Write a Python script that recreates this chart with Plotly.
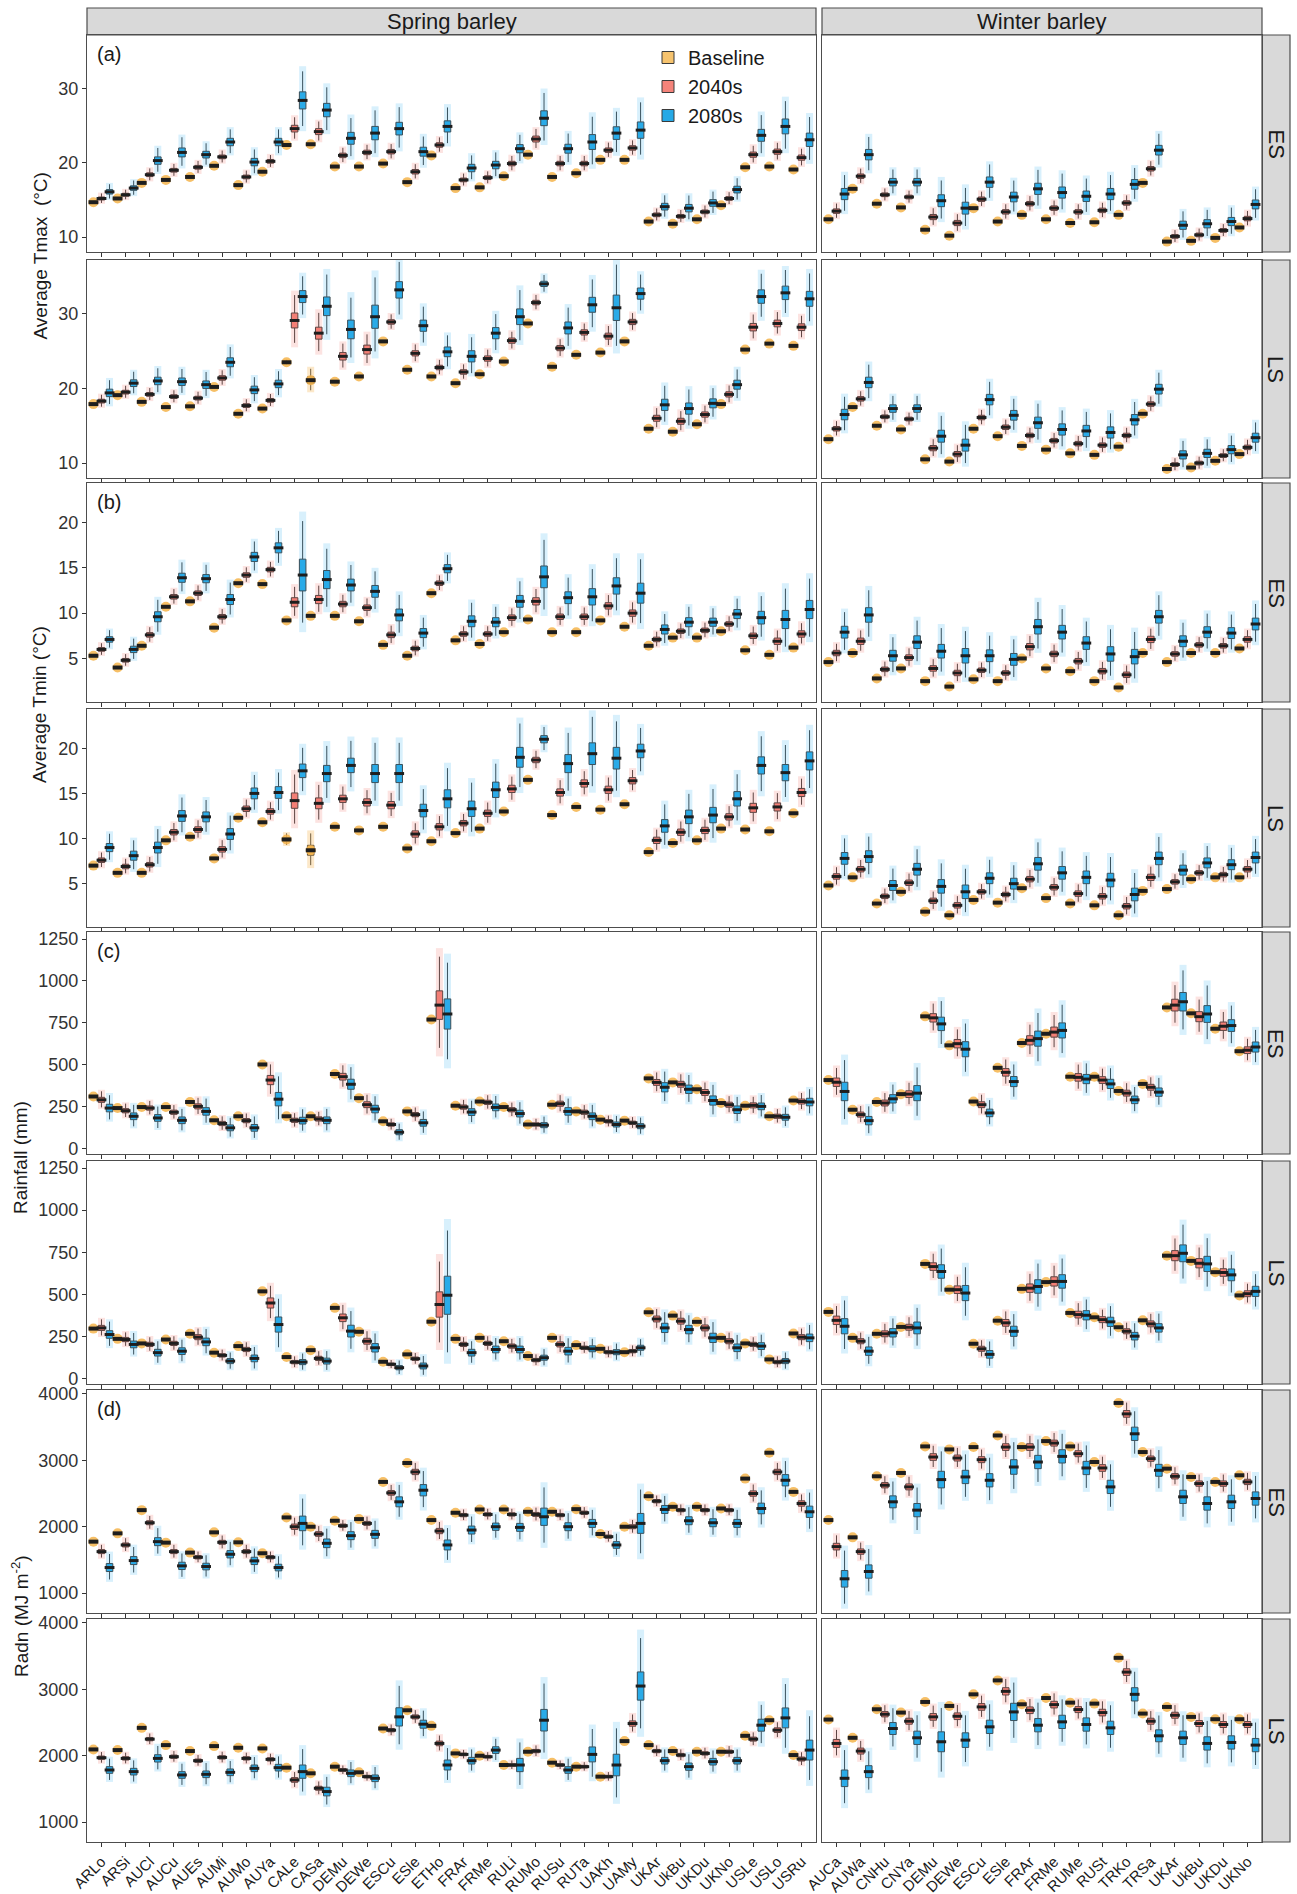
import plotly.graph_objects as go

W, H = 1297, 1894

SPRING_SITES = ["ARLo", "ARSi", "AUCl", "AUCu", "AUEs", "AUMi", "AUMo", "AUYa", "CALe", "CASa",
                "DEMu", "DEWe", "ESCu", "ESle", "ETHo", "FRAr", "FRMe", "RULi", "RUMo", "RUSu",
                "RUTa", "UAKh", "UAMy", "UKAr", "UkBu", "UKDu", "UKNo", "USLe", "USLo", "USRu"]
WINTER_SITES = ["AUCa", "AUWa", "CNHu", "CNYa", "DEMu", "DEWe", "ESCu", "ESle", "FRAr", "FRMe",
                "RUMe", "RUSt", "TRKo", "TRSa", "UKAr", "UkBu", "UKDu", "UKNo"]

# ---------------- Average Tmax ----------------
TMAX_ES_SP_BASE = [14.7, 15.2, 17.3, 17.7, 18.1, 19.6, 17.0, 18.8, 22.4, 22.5, 19.5, 19.5, 19.9, 17.4, 21.0,
                   16.6, 16.7, 18.2, 21.1, 18.1, 18.6, 20.4, 20.4, 12.1, 11.8, 12.4, 14.3, 19.4, 19.5, 19.1]
TMAX_ES_SP_2040 = [15.2, 15.7, 18.4, 19.0, 19.4, 20.8, 18.1, 20.2, 24.6, 24.2, 21.0, 21.4, 21.5, 18.8, 22.4,
                   17.7, 18.0, 19.9, 23.2, 19.9, 19.9, 21.7, 22.0, 13.0, 12.8, 13.4, 15.2, 21.1, 21.5, 20.7]
TMAX_ES_SP_2080 = [16.1, 16.6, 20.3, 21.4, 21.1, 22.8, 20.1, 22.8, 28.4, 27.1, 23.3, 24.0, 24.6, 21.5, 24.9,
                   19.3, 19.7, 21.9, 26.0, 21.9, 22.8, 24.0, 24.4, 14.1, 13.9, 14.6, 16.4, 23.7, 24.9, 23.1]
TMAX_ES_SP_IQR40 = [0.4, 0.4, 0.5, 0.5, 0.5, 0.5, 0.5, 0.5, 0.9, 0.8, 0.6, 0.6, 0.6, 0.6, 0.6,
                    0.5, 0.5, 0.6, 0.8, 0.6, 0.6, 0.6, 0.6, 0.5, 0.5, 0.5, 0.5, 0.7, 0.7, 0.7]
TMAX_ES_SP_IQR80 = [0.6, 0.6, 1.0, 1.2, 0.9, 1.0, 1.0, 1.0, 2.3, 1.8, 1.6, 1.8, 1.7, 1.2, 1.5,
                    1.0, 1.0, 1.1, 2.0, 1.2, 2.0, 1.7, 2.2, 0.9, 1.0, 0.9, 0.9, 1.6, 2.0, 1.8]

TMAX_ES_WI_BASE = [12.4, 16.5, 14.5, 14.0, 11.0, 10.2, 13.9, 12.1, 13.0, 12.4, 11.9, 12.0, 13.0, 17.3, 9.4, 9.5, 9.9, 11.3]
TMAX_ES_WI_2040 = [13.5, 18.2, 15.7, 15.4, 12.7, 11.9, 15.1, 13.4, 14.5, 13.9, 13.4, 13.6, 14.6, 19.2, 10.1, 10.3, 10.9, 12.5]
TMAX_ES_WI_2080 = [15.8, 21.1, 17.4, 17.4, 14.9, 13.9, 17.4, 15.4, 16.5, 16.0, 15.5, 15.8, 17.1, 21.7, 11.6, 11.8, 12.1, 14.4]
TMAX_ES_WI_IQR40 = [0.6, 0.6, 0.5, 0.5, 0.7, 0.7, 0.6, 0.6, 0.6, 0.6, 0.6, 0.6, 0.6, 0.6, 0.5, 0.5, 0.5, 0.6]
TMAX_ES_WI_IQR80 = [1.5, 1.4, 1.0, 1.0, 1.6, 1.6, 1.4, 1.3, 1.5, 1.5, 1.4, 1.5, 1.3, 1.3, 1.1, 1.1, 1.1, 1.2]

TMAX_LS_SP_BASE = [17.9, 19.1, 18.2, 17.5, 17.6, 20.2, 16.6, 17.3, 23.5, 21.1, 20.9, 21.6, 26.3, 22.5, 21.6,
                   20.7, 21.9, 23.6, 28.7, 22.9, 24.5, 24.8, 26.3, 14.6, 14.2, 15.2, 17.9, 25.2, 26.0, 25.7]
TMAX_LS_SP_2040 = [18.3, 19.5, 19.2, 18.9, 18.7, 21.4, 17.7, 18.4, 29.1, 27.4, 24.3, 25.2, 28.9, 24.7, 22.8,
                   22.2, 24.0, 26.4, 31.5, 25.4, 27.5, 27.0, 28.9, 16.0, 15.6, 16.5, 19.2, 28.2, 28.7, 28.2]
TMAX_LS_SP_2080 = [19.4, 20.7, 21.0, 20.9, 20.5, 23.5, 19.8, 20.6, 32.3, 31.0, 27.9, 29.6, 33.2, 28.4, 24.9,
                   24.3, 27.4, 29.6, 34.0, 28.1, 31.2, 30.8, 32.7, 17.8, 17.3, 18.0, 20.5, 32.3, 32.8, 32.0]
TMAX_LS_SP_IQR40 = [0.5, 0.5, 0.5, 0.5, 0.5, 0.6, 0.5, 0.5, 2.0, 1.6, 1.0, 1.2, 0.6, 0.7, 0.6,
                    0.6, 0.7, 0.7, 0.6, 0.7, 0.7, 0.8, 0.7, 0.8, 0.8, 0.7, 0.7, 1.0, 0.9, 0.9]
TMAX_LS_SP_IQR80 = [1.0, 0.9, 1.0, 1.0, 1.0, 1.2, 1.0, 1.0, 1.6, 2.5, 2.5, 3.1, 2.2, 1.5, 1.3,
                    1.5, 1.5, 2.1, 0.7, 1.6, 2.0, 3.4, 1.5, 1.5, 1.5, 1.2, 1.2, 1.8, 1.8, 2.0]
TMAX_LS_SP_IQRB = [0.0, 0.0, 0.0, 0.0, 0.0, 0.0, 0.0, 0.0, 0.2, 0.9, 0.0, 0.0, 0.0, 0.0, 0.0,
                   0.0, 0.0, 0.0, 0.0, 0.0, 0.0, 0.0, 0.0, 0.0, 0.0, 0.0, 0.0, 0.0, 0.0, 0.0]

TMAX_LS_WI_BASE = [13.2, 17.5, 15.0, 14.5, 10.5, 10.2, 14.6, 13.6, 12.3, 11.8, 11.3, 11.1, 12.2, 16.6, 9.2, 9.4, 10.3, 11.2]
TMAX_LS_WI_2040 = [14.6, 18.6, 16.2, 15.9, 12.0, 11.2, 16.1, 14.8, 13.7, 13.0, 12.6, 12.4, 13.7, 17.9, 9.8, 10.0, 11.0, 12.1]
TMAX_LS_WI_2080 = [16.5, 20.8, 17.3, 17.3, 13.6, 12.4, 18.5, 16.4, 15.4, 14.5, 14.3, 14.1, 15.8, 19.9, 11.1, 11.3, 11.8, 13.4]
TMAX_LS_WI_IQR40 = [0.6, 0.6, 0.5, 0.5, 0.7, 0.7, 0.6, 0.6, 0.6, 0.6, 0.6, 0.6, 0.6, 0.6, 0.5, 0.5, 0.5, 0.6]
TMAX_LS_WI_IQR80 = [1.4, 1.4, 1.0, 1.0, 1.6, 1.6, 1.4, 1.3, 1.5, 1.5, 1.5, 1.5, 1.4, 1.3, 1.1, 1.1, 1.1, 1.2]

# ---------------- Average Tmin ----------------
TMIN_ES_SP_BASE = [5.3, 4.0, 6.4, 10.7, 11.3, 8.4, 13.3, 13.2, 9.2, 9.7, 9.7, 9.1, 6.5, 5.3, 12.2,
                   7.0, 6.6, 7.9, 9.3, 7.9, 7.9, 9.2, 8.5, 6.4, 7.3, 7.3, 8.0, 5.9, 5.4, 6.2]
TMIN_ES_SP_2040 = [6.0, 4.8, 7.6, 11.8, 12.2, 9.6, 14.2, 14.8, 11.2, 11.5, 11.0, 10.6, 7.6, 6.1, 13.3,
                   7.7, 7.7, 9.5, 11.3, 9.6, 9.6, 10.8, 10.0, 7.1, 8.0, 8.1, 8.8, 7.5, 6.9, 7.7]
TMIN_ES_SP_2080 = [7.1, 6.0, 9.6, 13.9, 13.8, 11.5, 16.2, 17.2, 14.2, 13.7, 13.1, 12.4, 9.8, 7.8, 14.9,
                   9.1, 9.0, 11.3, 14.0, 11.7, 11.8, 13.0, 12.2, 8.2, 9.0, 9.0, 9.9, 9.5, 9.3, 10.4]
TMIN_ES_SP_IQR40 = [0.4, 0.4, 0.5, 0.5, 0.5, 0.5, 0.5, 0.5, 1.0, 0.9, 0.6, 0.6, 0.6, 0.5, 0.5,
                    0.5, 0.5, 0.6, 0.8, 0.6, 0.6, 0.7, 0.7, 0.5, 0.5, 0.5, 0.5, 0.6, 0.7, 0.7]
TMIN_ES_SP_IQR80 = [0.6, 0.7, 1.1, 1.0, 0.9, 1.1, 1.0, 1.1, 3.5, 2.0, 1.3, 1.3, 1.3, 1.0, 0.9,
                    1.2, 1.0, 1.3, 2.4, 1.3, 1.8, 1.8, 2.2, 1.0, 1.0, 0.9, 1.0, 1.4, 2.0, 2.0]

TMIN_ES_WI_BASE = [4.6, 5.6, 2.8, 3.9, 2.5, 1.9, 2.7, 2.5, 5.0, 3.9, 3.6, 2.5, 1.8, 5.6, 4.6, 5.6, 5.6, 6.1]
TMIN_ES_WI_2040 = [5.6, 6.9, 3.8, 5.1, 3.9, 3.4, 3.7, 3.4, 6.3, 5.5, 4.7, 3.6, 3.2, 7.1, 5.5, 6.5, 6.4, 7.1]
TMIN_ES_WI_2080 = [7.9, 9.8, 5.3, 6.8, 5.8, 5.3, 5.3, 4.9, 8.5, 7.9, 6.7, 5.5, 5.2, 9.6, 6.9, 7.9, 7.8, 8.8]
TMIN_ES_WI_IQR40 = [0.6, 0.7, 0.5, 0.6, 0.6, 0.6, 0.5, 0.5, 0.7, 0.6, 0.6, 0.6, 0.6, 0.7, 0.5, 0.5, 0.5, 0.6]
TMIN_ES_WI_IQR80 = [1.3, 1.6, 1.2, 1.4, 1.5, 1.6, 1.3, 1.3, 1.6, 1.5, 1.4, 1.6, 1.6, 1.4, 1.2, 1.2, 1.2, 1.3]

TMIN_LS_SP_BASE = [7.0, 6.2, 6.2, 9.8, 10.2, 7.8, 12.3, 11.8, 9.9, 8.7, 11.3, 10.9, 11.3, 8.9, 9.7,
                   10.6, 11.1, 13.0, 16.5, 12.6, 13.5, 13.2, 13.8, 8.5, 9.5, 9.8, 11.1, 11.0, 10.8, 12.8]
TMIN_LS_SP_2040 = [7.6, 6.9, 7.1, 10.7, 11.0, 8.8, 13.3, 13.0, 14.2, 13.9, 14.4, 14.0, 13.7, 10.5, 11.3,
                   11.7, 12.8, 15.5, 18.7, 15.1, 16.1, 15.4, 16.4, 9.8, 10.7, 10.9, 12.4, 13.4, 13.5, 15.1]
TMIN_LS_SP_2080 = [9.0, 8.1, 9.0, 12.5, 12.4, 10.5, 15.0, 15.1, 17.5, 17.2, 18.1, 17.2, 17.2, 13.1, 14.4,
                   13.3, 15.4, 19.0, 21.0, 18.3, 19.4, 18.9, 19.7, 11.4, 12.4, 12.6, 14.4, 18.1, 17.3, 18.6]
TMIN_LS_SP_IQR40 = [0.5, 0.5, 0.5, 0.6, 0.6, 0.6, 0.6, 0.6, 1.7, 1.2, 0.8, 0.8, 0.8, 0.7, 0.7,
                    0.6, 0.7, 0.8, 0.6, 0.8, 0.8, 0.8, 0.7, 0.7, 0.7, 0.7, 0.7, 1.0, 0.9, 0.9]
TMIN_LS_SP_IQR80 = [0.9, 1.0, 1.2, 1.2, 1.1, 1.2, 1.2, 1.3, 1.5, 1.8, 1.6, 2.0, 2.0, 1.4, 2.0,
                    1.7, 1.7, 2.2, 0.8, 2.0, 2.4, 2.4, 1.5, 1.4, 1.5, 1.7, 1.6, 1.9, 1.8, 2.0]
TMIN_LS_SP_IQRB = [0.0, 0.0, 0.0, 0.0, 0.0, 0.0, 0.0, 0.0, 0.4, 1.1, 0.0, 0.0, 0.0, 0.0, 0.0,
                   0.0, 0.0, 0.0, 0.0, 0.0, 0.0, 0.0, 0.0, 0.0, 0.0, 0.0, 0.0, 0.0, 0.0, 0.0]

TMIN_LS_WI_BASE = [4.8, 5.7, 2.8, 4.1, 1.9, 1.5, 3.2, 2.9, 4.5, 3.4, 2.8, 2.6, 1.5, 4.2, 4.4, 5.5, 5.7, 5.7]
TMIN_LS_WI_2040 = [5.8, 6.6, 3.6, 5.1, 3.1, 2.6, 4.1, 3.8, 5.5, 4.6, 3.9, 3.6, 2.5, 5.7, 5.2, 6.2, 6.0, 6.6]
TMIN_LS_WI_2080 = [7.8, 8.0, 4.8, 6.6, 4.7, 4.1, 5.6, 5.0, 7.2, 6.2, 5.7, 5.4, 3.8, 7.8, 6.5, 7.3, 7.1, 7.9]
TMIN_LS_WI_IQR40 = [0.6, 0.6, 0.5, 0.6, 0.6, 0.6, 0.5, 0.5, 0.6, 0.6, 0.6, 0.6, 0.6, 0.7, 0.5, 0.5, 0.5, 0.6]
TMIN_LS_WI_IQR80 = [1.3, 1.3, 1.1, 1.3, 1.5, 1.5, 1.2, 1.2, 1.4, 1.4, 1.4, 1.5, 1.4, 1.4, 1.1, 1.1, 1.1, 1.2]

# ---------------- Rainfall (mm) ----------------
RAIN_ES_SP_BASE = [311, 242, 248, 248, 278, 169, 193, 502, 193, 193, 445, 301, 163, 222, 770,
                   256, 281, 248, 144, 262, 222, 173, 167, 419, 395, 354, 272, 256, 193, 287]
RAIN_ES_SP_2040 = [291, 226, 242, 217, 252, 150, 167, 409, 169, 177, 429, 262, 144, 203, 856,
                   248, 276, 232, 144, 268, 217, 163, 154, 395, 384, 335, 262, 258, 193, 281]
RAIN_ES_SP_2080 = [242, 193, 183, 169, 222, 124, 124, 295, 167, 169, 384, 236, 98, 154, 803,
                   218, 246, 209, 140, 222, 193, 144, 134, 366, 354, 287, 232, 252, 187, 278]
RAIN_ES_SP_IQR40 = [30, 25, 25, 25, 30, 25, 25, 55, 25, 25, 40, 35, 20, 25, 170,
                    25, 25, 25, 20, 30, 25, 20, 20, 35, 35, 35, 30, 30, 25, 30]
RAIN_ES_SP_IQR80 = [45, 40, 40, 40, 45, 35, 40, 80, 40, 40, 60, 45, 30, 40, 180,
                    40, 40, 40, 30, 45, 40, 30, 30, 55, 50, 55, 45, 40, 35, 45]

RAIN_ES_WI_BASE = [409, 232, 278, 325, 789, 616, 281, 482, 630, 685, 429, 429, 344, 386, 842, 807, 715, 581]
RAIN_ES_WI_2040 = [396, 203, 272, 325, 780, 626, 262, 455, 646, 695, 425, 409, 331, 366, 856, 787, 730, 587]
RAIN_ES_WI_2080 = [341, 167, 297, 331, 744, 593, 213, 400, 656, 705, 415, 386, 291, 337, 876, 803, 734, 606]
RAIN_ES_WI_IQR40 = [50, 30, 35, 40, 50, 50, 35, 45, 55, 60, 45, 40, 35, 35, 70, 60, 50, 40]
RAIN_ES_WI_IQR80 = [110, 50, 50, 90, 80, 90, 45, 60, 90, 90, 55, 55, 45, 50, 110, 100, 70, 60]

RAIN_LS_SP_BASE = [297, 236, 209, 232, 266, 154, 193, 518, 128, 169, 420, 278, 100, 144, 338,
                   236, 242, 222, 134, 242, 199, 177, 157, 394, 374, 337, 242, 209, 114, 268]
RAIN_LS_SP_2040 = [301, 232, 203, 209, 246, 138, 173, 449, 98, 120, 361, 222, 85, 118, 440,
                   203, 209, 193, 110, 203, 183, 157, 163, 354, 341, 301, 222, 203, 98, 246]
RAIN_LS_SP_2080 = [262, 203, 154, 163, 218, 104, 120, 321, 98, 104, 282, 183, 65, 75, 495,
                   154, 173, 173, 124, 163, 177, 157, 183, 301, 291, 242, 183, 193, 104, 242]
RAIN_LS_SP_IQR40 = [30, 25, 25, 25, 30, 20, 25, 60, 20, 25, 45, 35, 15, 20, 150,
                    25, 25, 25, 20, 30, 20, 20, 20, 35, 35, 35, 30, 25, 20, 30]
RAIN_LS_SP_IQR80 = [45, 40, 40, 40, 45, 30, 40, 90, 30, 35, 70, 50, 25, 35, 226,
                    40, 40, 40, 30, 45, 35, 30, 30, 55, 50, 55, 45, 40, 30, 45]

RAIN_LS_WI_BASE = [396, 242, 266, 307, 681, 528, 207, 344, 533, 573, 390, 364, 305, 346, 730, 699, 632, 494]
RAIN_LS_WI_2040 = [346, 222, 266, 305, 665, 528, 177, 331, 537, 577, 380, 350, 281, 325, 730, 685, 630, 504]
RAIN_LS_WI_2080 = [311, 163, 272, 301, 636, 508, 144, 281, 547, 577, 376, 337, 252, 301, 744, 681, 616, 518]
RAIN_LS_WI_IQR40 = [50, 30, 35, 35, 45, 45, 30, 40, 50, 55, 40, 35, 30, 35, 60, 55, 45, 35]
RAIN_LS_WI_IQR80 = [90, 50, 50, 70, 80, 90, 45, 60, 80, 80, 55, 55, 45, 50, 100, 90, 70, 60]

# ---------------- Radn (MJ m-2) ----------------
RADN_ES_SP_BASE = [1775, 1900, 2250, 1760, 1610, 1915, 1765, 1600, 2140, 2000, 2090, 2115, 2675, 2960, 2100,
                   2210, 2260, 2260, 2225, 2225, 2265, 1890, 2000, 2460, 2300, 2300, 2275, 2725, 3115, 2525]
RADN_ES_SP_2040 = [1625, 1725, 2060, 1625, 1540, 1765, 1625, 1540, 2000, 1890, 2015, 2050, 2510, 2825, 1935,
                   2175, 2185, 2185, 2185, 2175, 2210, 1850, 2000, 2385, 2250, 2250, 2250, 2500, 2825, 2350]
RADN_ES_SP_2080 = [1385, 1490, 1775, 1410, 1400, 1585, 1485, 1385, 2050, 1750, 1865, 1885, 2375, 2550, 1725,
                   1950, 2000, 1990, 2150, 2000, 2050, 1725, 2050, 2260, 2090, 2060, 2050, 2275, 2700, 2225]
RADN_ES_SP_IQR40 = [60, 60, 60, 60, 50, 60, 60, 50, 80, 70, 50, 60, 70, 80, 80,
                    50, 50, 50, 60, 50, 50, 50, 60, 50, 50, 50, 50, 80, 80, 80]
RADN_ES_SP_IQR80 = [120, 120, 120, 110, 100, 110, 110, 100, 220, 130, 120, 120, 150, 170, 150,
                    120, 110, 120, 260, 120, 120, 100, 300, 120, 120, 120, 120, 160, 170, 170]

RADN_ES_WI_BASE = [2100, 1840, 2760, 2810, 3210, 3165, 3200, 3375, 3200, 3290, 3210, 2975, 3865, 3125, 2875, 2750, 2675, 2775]
RADN_ES_WI_2040 = [1700, 1625, 2625, 2600, 3050, 3035, 3010, 3200, 3200, 3260, 3100, 2885, 3700, 3025, 2760, 2650, 2650, 2675]
RADN_ES_WI_2080 = [1215, 1325, 2375, 2250, 2710, 2750, 2700, 2900, 2975, 3060, 2885, 2600, 3400, 2850, 2450, 2350, 2375, 2425]
RADN_ES_WI_IQR40 = [100, 80, 80, 90, 100, 90, 90, 100, 100, 90, 90, 100, 100, 80, 80, 80, 80, 80]
RADN_ES_WI_IQR80 = [250, 200, 180, 200, 250, 200, 200, 220, 200, 200, 200, 200, 200, 180, 200, 200, 200, 200]

RADN_LS_SP_BASE = [2095, 2085, 2420, 2160, 2070, 2145, 2120, 2110, 1820, 1735, 1835, 1750, 2410, 2685, 2450,
                   2035, 2000, 1860, 2060, 1895, 1835, 1685, 2220, 2160, 2070, 2060, 2060, 2300, 2535, 2010]
RADN_LS_SP_2040 = [1970, 1960, 2250, 1985, 1925, 1975, 1960, 1945, 1635, 1510, 1785, 1685, 2385, 2585, 2185,
                   2020, 1985, 1860, 2070, 1860, 1835, 1685, 2485, 2070, 2010, 2035, 2060, 2250, 2385, 1950]
RADN_LS_SP_2080 = [1785, 1760, 1960, 1710, 1720, 1750, 1810, 1820, 1760, 1460, 1735, 1660, 2585, 2475, 1860,
                   1925, 2085, 1860, 2535, 1785, 2020, 1860, 3050, 1925, 1835, 1910, 1925, 2460, 2570, 2085]
RADN_LS_SP_IQR40 = [50, 50, 50, 50, 50, 50, 50, 50, 70, 60, 40, 40, 50, 60, 70,
                    40, 40, 40, 50, 40, 40, 40, 80, 50, 50, 50, 50, 60, 70, 60]
RADN_LS_SP_IQR80 = [100, 100, 110, 100, 100, 100, 100, 100, 200, 130, 100, 100, 275, 120, 150,
                    100, 100, 200, 325, 100, 225, 325, 425, 100, 110, 100, 100, 180, 300, 300]

RADN_LS_WI_BASE = [2545, 2270, 2700, 2650, 2810, 2750, 2925, 3135, 2775, 2870, 2800, 2785, 3475, 2635, 2735, 2585, 2550, 2550]
RADN_LS_WI_2040 = [2185, 2070, 2625, 2520, 2585, 2595, 2735, 2970, 2685, 2770, 2695, 2650, 3260, 2520, 2610, 2485, 2470, 2470]
RADN_LS_WI_2080 = [1660, 1760, 2410, 2270, 2210, 2235, 2435, 2660, 2460, 2510, 2470, 2420, 2925, 2300, 2270, 2185, 2200, 2160]
RADN_LS_WI_IQR40 = [120, 90, 80, 90, 100, 100, 100, 110, 100, 100, 90, 100, 100, 90, 90, 90, 90, 90]
RADN_LS_WI_IQR80 = [250, 180, 180, 200, 300, 220, 200, 260, 200, 200, 200, 200, 200, 180, 200, 200, 200, 200]

# ---------------- styling ----------------
SERIES = ["Baseline", "2040s", "2080s"]
FILL = {"Baseline": "#F6C36E", "2040s": "#F4837A", "2080s": "#26A9E6"}
HALO_LINE = {"Baseline": "rgba(245,180,75,0.30)", "2040s": "rgba(242,115,105,0.20)", "2080s": "rgba(60,180,240,0.20)"}
HALO_DOT = "rgba(245,180,75,0.85)"
OFFSET = {"Baseline": -1 / 3, "2040s": 0.0, "2080s": 1 / 3}
BOX_W = 0.27

ROWS_PX = [(35, 252), (260, 478), (483, 702), (709, 927), (932, 1154), (1161, 1384), (1390, 1613), (1619, 1842)]
COLS_PX = [(87, 816), (822, 1262)]
STRIP_X = (1262, 1290)
TOP_STRIP_Y = (8, 35)

VAR_RANGE = {"tmax": [8.0, 37.2], "tmin": [0.2, 24.35], "rain": [-32, 1292], "radn": [700, 4060]}
VAR_TICKS = {"tmax": [10, 20, 30], "tmin": [5, 10, 15, 20],
             "rain": [0, 250, 500, 750, 1000, 1250], "radn": [1000, 2000, 3000, 4000]}

PANELS = [
    (0, 0, "tmax", TMAX_ES_SP_BASE, TMAX_ES_SP_2040, TMAX_ES_SP_2080, TMAX_ES_SP_IQR40, TMAX_ES_SP_IQR80, None),
    (0, 1, "tmax", TMAX_ES_WI_BASE, TMAX_ES_WI_2040, TMAX_ES_WI_2080, TMAX_ES_WI_IQR40, TMAX_ES_WI_IQR80, None),
    (1, 0, "tmax", TMAX_LS_SP_BASE, TMAX_LS_SP_2040, TMAX_LS_SP_2080, TMAX_LS_SP_IQR40, TMAX_LS_SP_IQR80, TMAX_LS_SP_IQRB),
    (1, 1, "tmax", TMAX_LS_WI_BASE, TMAX_LS_WI_2040, TMAX_LS_WI_2080, TMAX_LS_WI_IQR40, TMAX_LS_WI_IQR80, None),
    (2, 0, "tmin", TMIN_ES_SP_BASE, TMIN_ES_SP_2040, TMIN_ES_SP_2080, TMIN_ES_SP_IQR40, TMIN_ES_SP_IQR80, None),
    (2, 1, "tmin", TMIN_ES_WI_BASE, TMIN_ES_WI_2040, TMIN_ES_WI_2080, TMIN_ES_WI_IQR40, TMIN_ES_WI_IQR80, None),
    (3, 0, "tmin", TMIN_LS_SP_BASE, TMIN_LS_SP_2040, TMIN_LS_SP_2080, TMIN_LS_SP_IQR40, TMIN_LS_SP_IQR80, TMIN_LS_SP_IQRB),
    (3, 1, "tmin", TMIN_LS_WI_BASE, TMIN_LS_WI_2040, TMIN_LS_WI_2080, TMIN_LS_WI_IQR40, TMIN_LS_WI_IQR80, None),
    (4, 0, "rain", RAIN_ES_SP_BASE, RAIN_ES_SP_2040, RAIN_ES_SP_2080, RAIN_ES_SP_IQR40, RAIN_ES_SP_IQR80, None),
    (4, 1, "rain", RAIN_ES_WI_BASE, RAIN_ES_WI_2040, RAIN_ES_WI_2080, RAIN_ES_WI_IQR40, RAIN_ES_WI_IQR80, None),
    (5, 0, "rain", RAIN_LS_SP_BASE, RAIN_LS_SP_2040, RAIN_LS_SP_2080, RAIN_LS_SP_IQR40, RAIN_LS_SP_IQR80, None),
    (5, 1, "rain", RAIN_LS_WI_BASE, RAIN_LS_WI_2040, RAIN_LS_WI_2080, RAIN_LS_WI_IQR40, RAIN_LS_WI_IQR80, None),
    (6, 0, "radn", RADN_ES_SP_BASE, RADN_ES_SP_2040, RADN_ES_SP_2080, RADN_ES_SP_IQR40, RADN_ES_SP_IQR80, None),
    (6, 1, "radn", RADN_ES_WI_BASE, RADN_ES_WI_2040, RADN_ES_WI_2080, RADN_ES_WI_IQR40, RADN_ES_WI_IQR80, None),
    (7, 0, "radn", RADN_LS_SP_BASE, RADN_LS_SP_2040, RADN_LS_SP_2080, RADN_LS_SP_IQR40, RADN_LS_SP_IQR80, None),
    (7, 1, "radn", RADN_LS_WI_BASE, RADN_LS_WI_2040, RADN_LS_WI_2080, RADN_LS_WI_IQR40, RADN_LS_WI_IQR80, None),
]

FONT = "Arial, Liberation Sans, sans-serif"
fig = go.Figure()
layout_axes = {}

for k, (row, col, var, base, m40, m80, s40, s80, sb) in enumerate(PANELS, start=1):
    xref = "x" if k == 1 else f"x{k}"
    yref = "y" if k == 1 else f"y{k}"
    n = len(base)
    sb = sb if sb is not None else [0.0] * n
    series_data = {"Baseline": (base, sb), "2040s": (m40, s40), "2080s": (m80, s80)}

    # translucent cloud of points behind the boxes
    for s in SERIES:
        med, iqr = series_data[s]
        xs = [i + OFFSET[s] for i in range(n)]
        if s == "Baseline":
            fig.add_trace(go.Scatter(x=xs, y=med, mode="markers", xaxis=xref, yaxis=yref,
                                     marker=dict(size=10, color=HALO_DOT, line=dict(width=0)),
                                     showlegend=False, hoverinfo="skip"))
        hx, hy = [], []
        for x, m, q in zip(xs, med, iqr):
            if q <= 0:
                continue
            hx += [x, x, None]
            hy += [m - 1.8 * q, m + 2.0 * q, None]
        if hx:
            fig.add_trace(go.Scatter(x=hx, y=hy, mode="lines", xaxis=xref, yaxis=yref,
                                     line=dict(width=7, color=HALO_LINE[s]),
                                     showlegend=False, hoverinfo="skip"))

    for s in SERIES:
        med, iqr = series_data[s]
        xs = [i + OFFSET[s] for i in range(n)]
        q1 = [m - q / 2 for m, q in zip(med, iqr)]
        q3 = [m + q / 2 for m, q in zip(med, iqr)]
        lo = [a - 1.0 * q for a, q in zip(q1, iqr)]
        hi = [b + 1.2 * q for b, q in zip(q3, iqr)]
        fig.add_trace(go.Box(x=xs, q1=q1, median=med, q3=q3, lowerfence=lo, upperfence=hi,
                             width=BOX_W, fillcolor=FILL[s], line=dict(color="#3a3a3a", width=1),
                             whiskerwidth=0, boxpoints=False, name=s, legendgroup=s,
                             showlegend=(k == 1), xaxis=xref, yaxis=yref, hoverinfo="skip"))
        fig.add_trace(go.Scatter(x=xs, y=med, mode="markers", xaxis=xref, yaxis=yref,
                                 marker=dict(symbol="line-ew", size=7,
                                             line=dict(width=4 if s == "Baseline" else 3, color="#1e1e1e")),
                                 showlegend=False, hoverinfo="skip"))

    x0, x1 = COLS_PX[col]
    y0, y1 = ROWS_PX[row]
    sites = SPRING_SITES if col == 0 else WINTER_SITES
    layout_axes["xaxis" if k == 1 else f"xaxis{k}"] = dict(
        domain=[x0 / W, x1 / W], range=[-0.6, n - 0.4], anchor=yref, automargin=False,
        tickmode="array", tickvals=list(range(n)), ticktext=sites,
        showticklabels=(row == 7), tickangle=-45, ticks="outside", ticklen=4,
        tickcolor="#333333", tickfont=dict(size=15, color="#1a1a1a", family=FONT),
        showline=True, mirror=True, linecolor="#4d4d4d", linewidth=1.2,
        showgrid=False, zeroline=False)
    layout_axes["yaxis" if k == 1 else f"yaxis{k}"] = dict(
        domain=[1 - y1 / H, 1 - y0 / H], range=VAR_RANGE[var], anchor=xref, automargin=False,
        tickmode="array", tickvals=VAR_TICKS[var], showticklabels=(col == 0),
        ticks="outside" if col == 0 else "", ticklen=4, tickcolor="#333333",
        tickfont=dict(size=18, color="#333333", family=FONT),
        showline=True, mirror=True, linecolor="#4d4d4d", linewidth=1.2,
        showgrid=False, zeroline=False)

shapes = []
annotations = []
# top strips
for (x0, x1), label in zip(COLS_PX, ["Spring barley", "Winter barley"]):
    shapes.append(dict(type="rect", xref="paper", yref="paper", x0=x0 / W, x1=x1 / W,
                       y0=1 - TOP_STRIP_Y[1] / H, y1=1 - TOP_STRIP_Y[0] / H,
                       fillcolor="#D9D9D9", line=dict(color="#4d4d4d", width=1.2), layer="below"))
    annotations.append(dict(text=label, xref="paper", yref="paper", x=(x0 + x1) / 2 / W,
                            y=1 - (TOP_STRIP_Y[0] + TOP_STRIP_Y[1]) / 2 / H, showarrow=False,
                            xanchor="center", yanchor="middle",
                            font=dict(size=22, color="#1a1a1a", family=FONT)))
# right strips
for r, (y0, y1) in enumerate(ROWS_PX):
    shapes.append(dict(type="rect", xref="paper", yref="paper", x0=STRIP_X[0] / W, x1=STRIP_X[1] / W,
                       y0=1 - y1 / H, y1=1 - y0 / H,
                       fillcolor="#D9D9D9", line=dict(color="#4d4d4d", width=1.2), layer="below"))
    annotations.append(dict(text="ES" if r % 2 == 0 else "LS", xref="paper", yref="paper",
                            x=(STRIP_X[0] + STRIP_X[1]) / 2 / W, y=1 - (y0 + y1) / 2 / H,
                            textangle=90, showarrow=False, xanchor="center", yanchor="middle",
                            font=dict(size=22, color="#1a1a1a", family=FONT)))
# panel letters
for r, lab in zip([0, 2, 4, 6], ["(a)", "(b)", "(c)", "(d)"]):
    y0 = ROWS_PX[r][0]
    annotations.append(dict(text=lab, xref="paper", yref="paper", x=95 / W, y=1 - (y0 + 6) / H,
                            showarrow=False, xanchor="left", yanchor="top",
                            font=dict(size=20, color="#1a1a1a", family=FONT)))
# y-axis titles
YTITLES = [("Average Tmax  (°C)", 0, 1, 40), ("Average Tmin (°C)", 2, 3, 40),
           ("Rainfall (mm)", 4, 5, 20), ("Radn (MJ m<sup>-2</sup>)", 6, 7, 20)]
for text, ra, rb, xp in YTITLES:
    yc = (ROWS_PX[ra][0] + ROWS_PX[rb][1]) / 2
    annotations.append(dict(text=text, xref="paper", yref="paper", x=xp / W, y=1 - yc / H,
                            textangle=-90, showarrow=False, xanchor="center", yanchor="middle",
                            font=dict(size=19, color="#1a1a1a", family=FONT)))

fig.update_layout(
    width=W, height=H, margin=dict(l=0, r=0, t=0, b=0, autoexpand=False),
    paper_bgcolor="white", plot_bgcolor="white", boxmode="overlay",
    font=dict(family=FONT, color="#1a1a1a"),
    shapes=shapes, annotations=annotations,
    legend=dict(x=648 / W, y=1 - 38 / H, xanchor="left", yanchor="top",
                bgcolor="rgba(0,0,0,0)", font=dict(size=20, family=FONT, color="#1a1a1a"),
                tracegroupgap=0, itemwidth=30),
    **layout_axes,
)

fig.write_html("out.html", config={"displayModeBar": False},
               post_script="document.body.style.margin='0px';document.body.style.padding='0px';")
